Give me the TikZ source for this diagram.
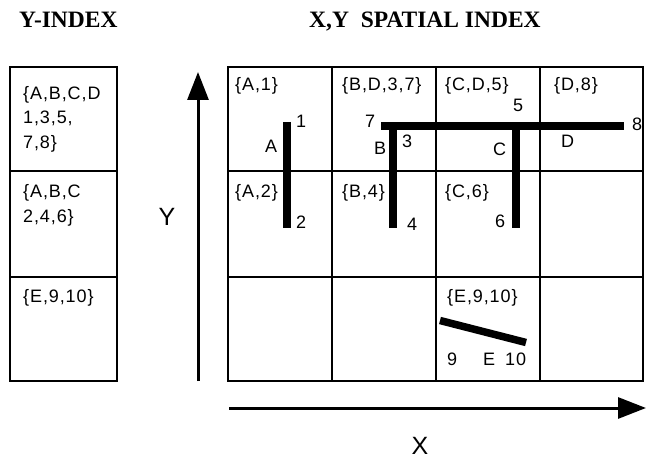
\documentclass[tikz,border=0pt]{standalone}
\usepackage{fontspec}
\setmainfont{Liberation Serif}
\newfontfamily\cellfont[LetterSpace=5]{Liberation Sans}
\usetikzlibrary{arrows.meta,positioning}

\begin{document}
\begin{tikzpicture}[
	x=1pt,y=-1pt,
	every node/.style={inner sep=0pt,anchor=base west},
	title/.style={font=\bfseries\fontsize{23.5}{26}\selectfont},
	entry/.style={font=\cellfont\fontsize{18}{24.5}\selectfont,align=left},
	tag/.style={font=\cellfont\fontsize{18}{20}\selectfont},
	axislabel/.style={font=\cellfont\fontsize{25}{28}\selectfont,anchor=base},
	gridline/.style={line width=2.5pt},
	segment/.style={line width=7.5pt},
	axis/.style={line width=3pt,-{Triangle[length=28pt,width=21pt]}}
	]
	\useasboundingbox (0,0) rectangle (646,460);
	
	% titles
	\node[title] (ytitle) at (19,28) {Y-INDEX};
	\node[title] (xytitle) at (309,28) {X,Y\ \ SPATIAL INDEX};
	
	% y-index column (entries placed by their last line)
	\draw[gridline] (10,67) rectangle (117,381);
	\draw[gridline] (10,171) -- (117,171);
	\draw[gridline] (10,277) -- (117,277);
	\node[entry] (yrow1) at (23,148) {\{A,B,C,D\\1,3,5,\\7,8\}};
	\node[entry] (yrow2) at (23,222) {\{A,B,C\\2,4,6\}};
	\node[entry] (yrow3) at (23,302) {\{E,9,10\}};
	
	% spatial grid
	\draw[gridline] (228,67) rectangle (643,381);
	\foreach \x in {332,436,540}
		\draw[gridline] (\x,67) -- (\x,381);
	\foreach \y in {171,277}
		\draw[gridline] (228,\y) -- (643,\y);
	
	\node[tag] (cellA1) at (235,91) {\{A,1\}};
	\node[tag] (cellB1) at (342,91) {\{B,D,3,7\}};
	\node[tag] (cellC1) at (445,91) {\{C,D,5\}};
	\node[tag] (cellD1) at (554,91) {\{D,8\}};
	\node[tag] (cellA2) at (235,197) {\{A,2\}};
	\node[tag] (cellB2) at (342,197) {\{B,4\}};
	\node[tag] (cellC2) at (445,197) {\{C,6\}};
	\node[tag] (cellC3) at (447,302) {\{E,9,10\}};
	
	% axes
	\coordinate (ybot) at (198,381);
	\coordinate (ytop) at (198,72);
	\coordinate (xleft) at (229,408);
	\coordinate (xright) at (646,408);
	\draw[axis] (ybot) -- (ytop);
	\draw[axis] (xleft) -- (xright);
	\node[axislabel] (ylabel) at (167,225) {Y};
	\node[axislabel] (xlabel) at (420,454) {X};
	
	% segments
	\coordinate (end1) at (287,122);
	\coordinate (end2) at (287,228);
	\coordinate (end3) at (393,126);
	\coordinate (end4) at (393,228);
	\coordinate (end5) at (516,126);
	\coordinate (end6) at (516,228);
	\coordinate (end7) at (381,126);
	\coordinate (end8) at (624,126);
	\coordinate (end9) at (440,320.5);
	\coordinate (end10) at (526,342.5);
	\draw[segment] (end1) -- (end2);
	\draw[segment] (end3) -- (end4);
	\draw[segment] (end5) -- (end6);
	\draw[segment] (end7) -- (end8);
	\draw[segment] (end9) -- (end10);
	
	% segment labels
	\node[tag] (segA) at (265,153) {A};
	\node[tag] (segB) at (374,154) {B};
	\node[tag] (segC) at (493,155) {C};
	\node[tag] (segD) at (561,147) {D};
	\node[tag] (segE) at (483,365) {E};
	\node[tag] (num1) at (296,128) {1};
	\node[tag] (num2) at (296,228) {2};
	\node[tag] (num3) at (402,147) {3};
	\node[tag] (num4) at (407,230) {4};
	\node[tag] (num5) at (513,112) {5};
	\node[tag] (num6) at (495,227) {6};
	\node[tag] (num7) at (365,128) {7};
	\node[tag] (num8) at (632,131) {8};
	\node[tag] (num9) at (447,365) {9};
	\node[tag] (num10) at (505,365) {10};
	
\end{tikzpicture}
\end{document}
